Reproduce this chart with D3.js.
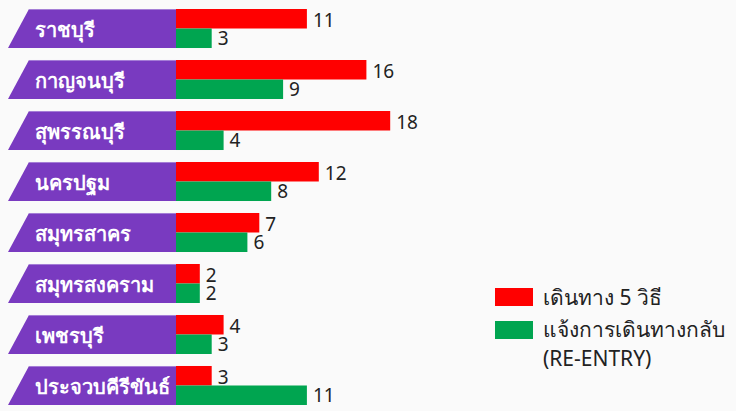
<!DOCTYPE html>
<html>
<head>
<meta charset="utf-8">
<script src="https://cdn.jsdelivr.net/npm/d3@7"></script>
<style>
  body { margin: 0; background: #fafafa; }
  svg { display: block; }
</style>
</head>
<body>
<svg id="chart" width="736" height="411"></svg>
<script>
const provinces = ["ราชบุรี", "กาญจนบุรี", "สุพรรณบุรี", "นครปฐม", "สมุทรสาคร", "สมุทรสงคราม", "เพชรบุรี", "ประจวบคีรีขันธ์"]
const travel5 = [11, 16, 18, 12, 7, 2, 4, 3]
const reentry = [3, 9, 4, 8, 6, 2, 3, 11]
const seriesNames = ["เดินทาง 5 วิธี", "แจ้งการเดินทางกลับ", "(RE-ENTRY)"]

const font = "'Noto Sans', 'DejaVu Sans', sans-serif"
const svg = d3.select('#chart')

const y = d3.scaleBand()
    .domain(provinces)
    .range([9, 405])
    .paddingInner(0.235)
    .paddingOuter(0)

const x = d3.scaleLinear()
    .domain([0, 20])
    .range([176, 414])

const rows = svg.selectAll('g.row')
    .data(provinces.map((p, i) => ({name: p, a: travel5[i], b: reentry[i]})))
    .enter()
    .append('g')
    .attr('class', 'row')
    .attr('transform', d => `translate(0,${y(d.name)})`)

const h = y.bandwidth()

// purple label tab
rows.append('path')
    .attr('d', `M29,0 L176,0 L176,${h} L8,${h} Z`)
    .attr('fill', '#793ac0')

rows.append('line')
    .attr('x1', 29).attr('x2', 176)
    .attr('y1', 0.5).attr('y2', 0.5)
    .attr('stroke', '#a57fd6')
    .attr('stroke-width', 1)

rows.append('text')
    .attr('x', 35)
    .attr('y', 28)
    .style('fill', 'white')
    .style('font-family', font)
    .style('font-size', '20px')
    .style('font-weight', '600')
    .text(d => d.name)

// bars
rows.append('rect')
    .attr('x', x(0))
    .attr('y', 0)
    .attr('width', d => x(d.a) - x(0))
    .attr('height', h / 2)
    .attr('fill', '#ff0000')

rows.append('rect')
    .attr('x', x(0))
    .attr('y', h / 2)
    .attr('width', d => x(d.b) - x(0))
    .attr('height', h / 2)
    .attr('fill', '#00a550')

rows.append('text')
    .attr('x', d => x(d.a) + 6)
    .attr('y', 18)
    .style('fill', '#222')
    .style('font-family', font)
    .style('font-size', '19px')
    .text(d => d.a)

rows.append('text')
    .attr('x', d => x(d.b) + 6)
    .attr('y', 36)
    .style('fill', '#222')
    .style('font-family', font)
    .style('font-size', '19px')
    .text(d => d.b)

// legend
const legend = svg.append('g')
legend.append('rect').attr('x', 495).attr('y', 288).attr('width', 38).attr('height', 18).attr('fill', '#ff0000')
legend.append('rect').attr('x', 495).attr('y', 321).attr('width', 38).attr('height', 18).attr('fill', '#00a550')
;[305, 337, 366].forEach((yy, i) => {
    legend.append('text')
        .attr('x', 543).attr('y', yy)
        .style('fill', '#222')
        .style('font-family', font)
        .style('font-size', '21px')
        .text(seriesNames[i])
})
</script>
</body>
</html>
